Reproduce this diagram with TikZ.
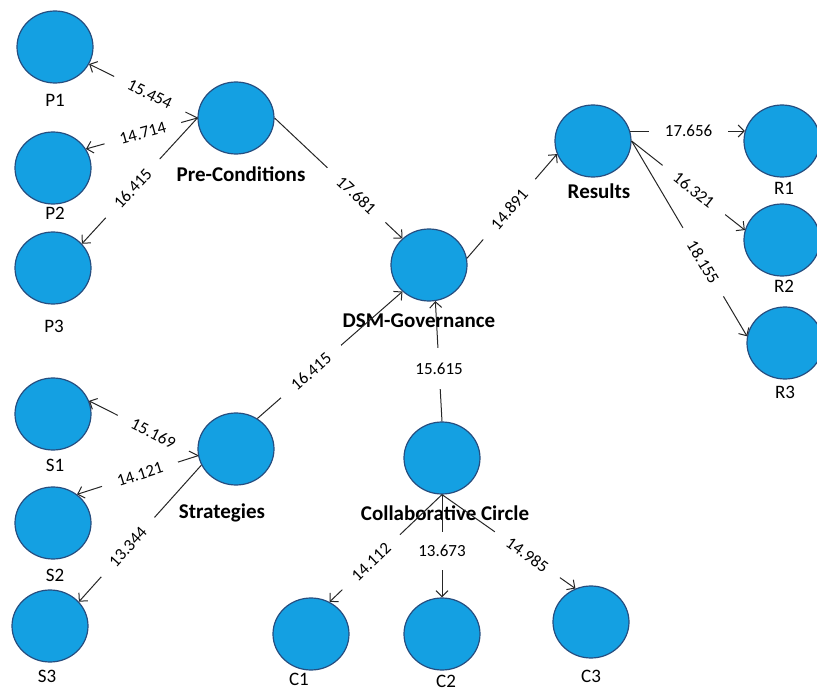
\documentclass[tikz,border=0pt]{standalone}
\usepackage{fontspec}
\setmainfont{Carlito}
\usetikzlibrary{shapes.geometric,arrows.meta}
\definecolor{lvblue}{RGB}{20,160,226}
\definecolor{lvedge}{RGB}{38,78,128}

\begin{document}
\begin{tikzpicture}[x=1pt,y=-1pt,
  lv/.style={ellipse,draw=lvedge,fill=lvblue,line width=1.2pt,minimum width=76pt,minimum height=72pt,inner sep=0pt},
  ind/.style={anchor=base,inner sep=0pt,font=\fontsize{19}{22}\selectfont},
  con/.style={anchor=base,inner sep=0pt,font=\bfseries\fontsize{21}{24}\selectfont},
  link/.style={draw=black!85,line width=1pt,->,>={Straight Barb[length=6pt,width=12pt]}},
  coef/.style={fill=white,inner xsep=16pt,inner ysep=3pt,font=\fontsize{17}{20}\selectfont},
  scoef/.style={coef,sloped}]
\useasboundingbox (0,0) rectangle (817,690);

\node[lv] (p1) at (55,47) {};
\node[lv] (p2) at (53,168) {};
\node[lv] (p3) at (53,268) {};
\node[lv] (pre) at (236,118) {};
\node[lv] (dsm) at (429,265) {};
\node[lv] (res) at (593,141) {};
\node[lv] (r1) at (782,141) {};
\node[lv] (r2) at (782,240) {};
\node[lv] (r3) at (785,343) {};
\node[lv] (s1) at (53,414) {};
\node[lv] (s2) at (53,523) {};
\node[lv] (s3) at (50,626) {};
\node[lv] (str) at (236,449) {};
\node[lv] (col) at (442,458) {};
\node[lv] (c1) at (311,634) {};
\node[lv] (c2) at (442,634) {};
\node[lv] (c3) at (591,622) {};

\node[ind] (p1t) at (55,107) {P1};
\node[ind] (p2t) at (55,219) {P2};
\node[ind] (p3t) at (54,332) {P3};
\node[con] (pret) at (241,182) {Pre-Conditions};
\node[con] (dsmt) at (419,327) {DSM-Governance};
\node[con] (rest) at (599,199) {Results};
\node[ind] (r1t) at (784,194) {R1};
\node[ind] (r2t) at (784,292) {R2};
\node[ind] (r3t) at (785,398) {R3};
\node[ind] (s1t) at (55,471) {S1};
\node[ind] (s2t) at (55,581) {S2};
\node[ind] (s3t) at (47,682) {S3};
\node[con] (strt) at (222,518) {Strategies};
\node[con] (colt) at (445,520) {Collaborative Circle};
\node[ind] (c1t) at (299,685) {C1};
\node[ind] (c2t) at (446,687) {C2};
\node[ind] (c3t) at (591,682) {C3};

\draw[link] (pre.west) -- node[scoef,pos=0.44] {15.454} (p1);
\draw[link] (pre.west) -- node[scoef,pos=0.49] {14.714} (p2.30);
\draw[link] (pre.west) -- node[scoef,pos=0.56] {16.415} (p3.40);
\draw[link] (pre.east) -- node[scoef,pos=0.64] {17.681} (dsm.135);
\draw[link] (str.55) -- node[scoef,pos=0.37] {16.415} (dsm.225);
\draw[link] (col.north) -- node[coef,pos=0.44,inner ysep=15pt,inner xsep=2pt] {15.615} (dsm.-80);
\draw[link] (dsm.10) -- node[scoef,pos=0.47] {14.891} (res.200);
\draw[link] (res.15) -- node[scoef,pos=0.51] {17.656} (r1.165);
\draw[link] (res.east) -- node[scoef,pos=0.55] {16.321} (r2.165);
\draw[link] (res.east) -- node[scoef,pos=0.62] {18.155} (r3.170);
\draw[link] (str.190) -- node[scoef,pos=0.41] {15.169} (s1.20);
\draw[link] (str.190) -- node[scoef,pos=0.48] {14.121} (s2.50);
\draw[link] (str.205) -- node[scoef,pos=0.6] {13.344} (s3.40);
\draw[link] (col.south) -- node[scoef,pos=0.63] {14.112} (c1.60);
\draw[link] (col.south) -- node[coef,pos=0.55,inner ysep=13pt,inner xsep=2pt] {13.673} (c2.north);
\draw[link] (col.south) -- node[scoef,pos=0.64] {14.985} (c3.115);

\end{tikzpicture}
\end{document}
